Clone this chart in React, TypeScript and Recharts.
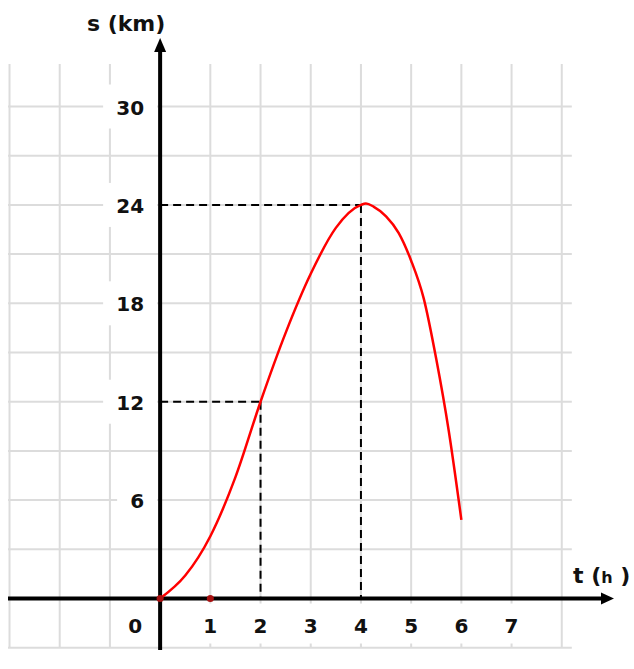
import React from 'react';
import { ComposedChart, Line, Scatter, XAxis, YAxis } from 'recharts';

// ---- data ----
const curveT = [0, 0.5, 1, 1.5, 2, 2.5, 3, 3.5, 4, 4.1, 4.25, 4.5, 4.75, 5, 5.25, 5.5, 5.75, 6];
const curveS = [0, 1.4, 3.8, 7.4, 12, 16.2, 19.8, 22.6, 24, 24.08, 23.9, 23.3, 22.3, 20.6, 18.3, 14.6, 10.2, 4.8];

const gridT = [-3, -2, -1, 0, 1, 2, 3, 4, 5, 6, 7, 8];
const gridS = [-3, 0, 3, 6, 9, 12, 15, 18, 21, 24, 27, 30];

const xTickLabels = [0, 1, 2, 3, 4, 5, 6, 7];
const yTickLabels = [6, 12, 18, 24, 30];

// marked points (dashed projections)
const markT = [2, 4];
const markS = [12, 24];

const dotT = [0, 1];

// extents
const X_MIN = -3.03;
const X_MAX = 9.1;
const Y_MIN = -3.2;
const Y_MAX = 34.3;
const GRID_LEFT = -3.03;
const GRID_RIGHT = 8.2;
const GRID_TOP = 32.6;
const GRID_BOTTOM = -3;
const X_ARROW_T = 9.04;
const Y_ARROW_S = 34.18;

const curveData = curveT.map((t, i) => ({ t, s: curveS[i] }));
const FONT = "'DejaVu Sans', Verdana, sans-serif";
const GRID_COLOR = '#dcdcdc';

const YTickLabel = (p: any) => {
  const { cx, cy, payload } = p;
  const txt = String(payload.label);
  const w = txt.length * 14 + 26;
  return (
    <g>
      <rect x={cx - 3 - w} y={cy - 22} width={w} height={44} fill="#fff" />
      <text x={cx - 16} y={cy + 1} textAnchor="end" dominantBaseline="central" fontSize={20} fontWeight="bold" fontFamily={FONT} fill="#111">{txt}</text>
    </g>
  );
};

const XTickLabel = (p: any) => {
  const { cx, cy, payload } = p;
  const txt = String(payload.label);
  const dx = payload.label === 0 ? -25 : 0;
  return (
    <g>
      <rect x={cx + dx - 18} y={cy + 5} width={36} height={40} fill="#fff" />
      <text x={cx + dx} y={cy + 27} textAnchor="middle" dominantBaseline="central" fontSize={20} fontWeight="bold" fontFamily={FONT} fill="#111">{txt}</text>
    </g>
  );
};

const XArrow = (p: any) => {
  const { cx, cy } = p;
  return (
    <g>
      <polygon points={`${cx},${cy} ${cx - 13},${cy - 6} ${cx - 13},${cy + 6}`} fill="#000" />
      <text x={cx - 41} y={cy - 16} fontSize={22} fontWeight="bold" fontFamily={FONT} fill="#111">
        t (<tspan fontSize={16}>h</tspan> )
      </text>
    </g>
  );
};

const YArrow = (p: any) => {
  const { cx, cy } = p;
  return (
    <g>
      <polygon points={`${cx},${cy} ${cx - 6},${cy + 14} ${cx + 6},${cy + 14}`} fill="#000" />
      <text x={cx - 34} y={cy - 7} textAnchor="middle" fontSize={22} fontWeight="bold" fontFamily={FONT} fill="#111">s (km)</text>
    </g>
  );
};

const RedDot = (p: any) => {
  const { cx, cy } = p;
  return <circle cx={cx} cy={cy} r={3.5} fill="#a81010" />;
};

export default function App() {
  const lineProps = { dot: false, activeDot: false, isAnimationActive: false, type: 'linear' as const, dataKey: 's', legendType: 'none' as const };
  return (
    <div style={{ position: 'absolute', left: 0, top: 0, background: '#fff' }}>
      <ComposedChart width={634} height={669} margin={{ top: 36, right: 17, bottom: 18, left: 8 }} style={{ overflow: 'visible' }}>
        <XAxis type="number" dataKey="t" domain={[X_MIN, X_MAX]} hide />
        <YAxis type="number" dataKey="s" domain={[Y_MIN, Y_MAX]} hide />

        {gridT.map((t) => (
          <Line key={`gv${t}`} {...lineProps} data={[{ t, s: GRID_BOTTOM }, { t, s: GRID_TOP }]} stroke={GRID_COLOR} strokeWidth={2} />
        ))}
        {gridS.map((s) => (
          <Line key={`gh${s}`} {...lineProps} data={[{ t: GRID_LEFT, s }, { t: GRID_RIGHT, s }]} stroke={GRID_COLOR} strokeWidth={2} />
        ))}

        <Scatter data={yTickLabels.map((v) => ({ t: 0, s: v, label: v }))} dataKey="s" shape={YTickLabel} isAnimationActive={false} legendType="none" />
        <Scatter data={xTickLabels.map((v) => ({ t: v, s: 0, label: v }))} dataKey="s" shape={XTickLabel} isAnimationActive={false} legendType="none" />

        {markT.map((t, i) => (
          <Line key={`dh${t}`} {...lineProps} data={[{ t: 0, s: markS[i] }, { t, s: markS[i] }]} stroke="#000" strokeWidth={2} strokeDasharray="8 5" />
        ))}
        {markT.map((t, i) => (
          <Line key={`dv${t}`} {...lineProps} data={[{ t, s: markS[i] }, { t, s: 0 }]} stroke="#000" strokeWidth={2} strokeDasharray="8 5" />
        ))}

        <Line {...lineProps} data={[{ t: GRID_LEFT, s: 0 }, { t: X_ARROW_T - 0.2, s: 0 }]} stroke="#000" strokeWidth={4} />
        <Line {...lineProps} data={[{ t: 0, s: -3.14 }, { t: 0, s: Y_ARROW_S - 0.5 }]} stroke="#000" strokeWidth={4} />

        <Line {...lineProps} type="monotone" data={curveData} stroke="#ff0000" strokeWidth={2.5} />

        <Scatter data={dotT.map((t) => ({ t, s: 0 }))} dataKey="s" shape={RedDot} isAnimationActive={false} legendType="none" />
        <Scatter data={[{ t: X_ARROW_T, s: 0 }]} dataKey="s" shape={XArrow} isAnimationActive={false} legendType="none" />
        <Scatter data={[{ t: 0, s: Y_ARROW_S }]} dataKey="s" shape={YArrow} isAnimationActive={false} legendType="none" />
      </ComposedChart>
    </div>
  );
}
